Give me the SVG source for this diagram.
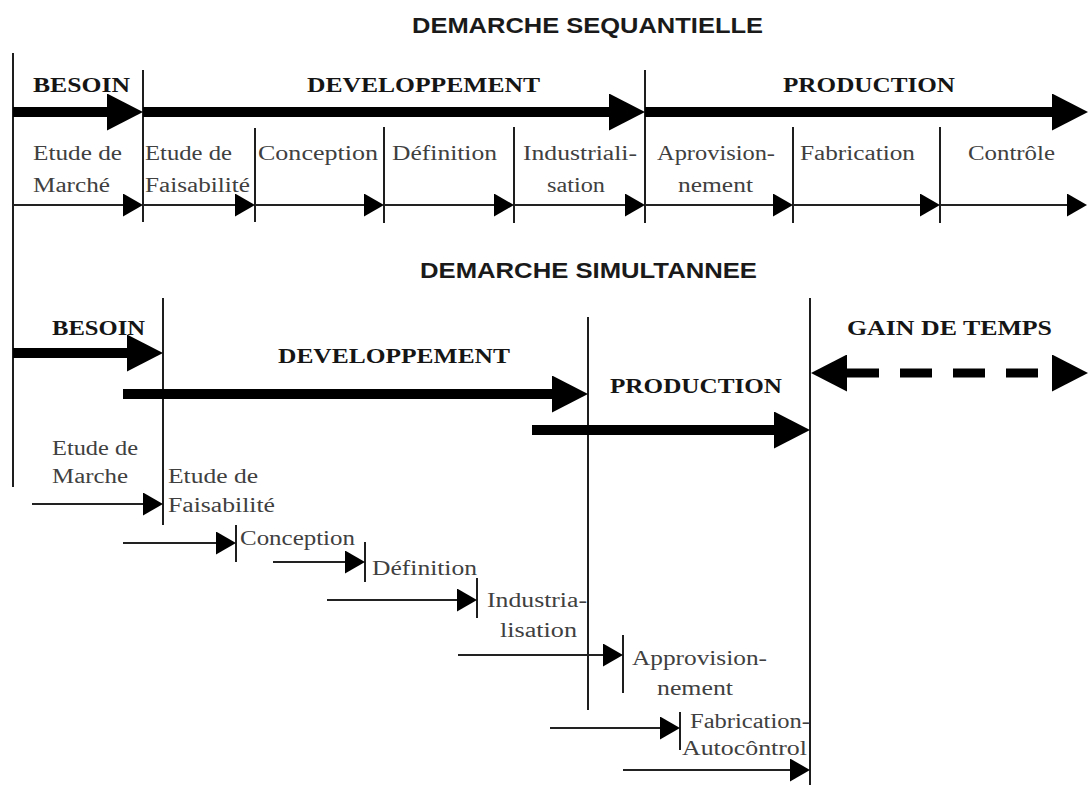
<svg xmlns="http://www.w3.org/2000/svg" width="1088" height="785" viewBox="0 0 1088 785">
  <defs>
    <style>
      .title { font-family: "Liberation Sans", Arial, sans-serif; font-weight: bold; font-size: 22px; fill: #1a1a1a; }
      .phase { font-family: "Liberation Serif", "Times New Roman", serif; font-weight: bold; font-size: 21px; fill: #151515; }
      .step { font-family: "Liberation Serif", "Times New Roman", serif; font-size: 20px; fill: #404040; }
      .rule { stroke: #1e1e1e; stroke-width: 2; fill: none; }
      .thick { stroke: #000; stroke-width: 10; fill: none; marker-end: url(#bigHead); }
      .thin { stroke: #222; stroke-width: 2.2; fill: none; marker-end: url(#smallHead); }
      .gain { stroke: #000; stroke-width: 9; fill: none; stroke-dasharray: 32 21; marker-start: url(#bigHead); marker-end: url(#bigHead); }
    </style>
    <marker id="bigHead" viewBox="0 0 36 37" refX="0" refY="18.5" markerWidth="36" markerHeight="37" markerUnits="userSpaceOnUse" orient="auto-start-reverse">
      <path d="M0,0 L36,18.5 L0,37 Z" fill="#000"/>
    </marker>
    <marker id="smallHead" viewBox="0 0 20 23" refX="0" refY="11.5" markerWidth="20" markerHeight="23" markerUnits="userSpaceOnUse" orient="auto">
      <path d="M0,0 L20,11.5 L0,23 Z" fill="#000"/>
    </marker>
  </defs>

  <rect width="1088" height="785" fill="#fff"/>

  <!-- section titles -->
  <g id="title-sequential">
    <text class="title" x="412" y="33" textLength="351" lengthAdjust="spacingAndGlyphs">DEMARCHE SEQUANTIELLE</text>
  </g>
  <g id="title-simultaneous">
    <text class="title" x="420" y="278" textLength="337" lengthAdjust="spacingAndGlyphs">DEMARCHE SIMULTANNEE</text>
  </g>

  <!-- separators and ticks -->
  <g id="rules">
    <line class="rule" x1="13" y1="53" x2="13" y2="487"/>
    <line class="rule" x1="143" y1="70" x2="143" y2="222"/>
    <line class="rule" x1="255" y1="128" x2="255" y2="222"/>
    <line class="rule" x1="384" y1="127" x2="384" y2="223"/>
    <line class="rule" x1="514" y1="127" x2="514" y2="223"/>
    <line class="rule" x1="645" y1="70" x2="645" y2="223"/>
    <line class="rule" x1="793" y1="127" x2="793" y2="223"/>
    <line class="rule" x1="940" y1="127" x2="940" y2="223"/>
    <line class="rule" x1="163" y1="298" x2="163" y2="525"/>
    <line class="rule" x1="588" y1="317" x2="588" y2="710"/>
    <line class="rule" x1="810" y1="298" x2="810" y2="785"/>
    <line class="rule" x1="236" y1="525" x2="236" y2="562"/>
    <line class="rule" x1="365" y1="542" x2="365" y2="582"/>
    <line class="rule" x1="477" y1="578" x2="477" y2="618"/>
    <line class="rule" x1="623" y1="635" x2="623" y2="693"/>
    <line class="rule" x1="680" y1="712" x2="680" y2="750"/>
  </g>

  <!-- arrows -->
  <g id="connectors">
    <!-- sequential: phases -->
    <path class="thick" d="M13,112 H107"/>
    <path class="thick" d="M143,112 H609"/>
    <path class="thick" d="M645,112 H1052"/>
    <!-- sequential: steps -->
    <path class="thin" d="M13,205 H123"/>
    <path class="thin" d="M143,205 H235"/>
    <path class="thin" d="M255,205 H364"/>
    <path class="thin" d="M384,205 H494"/>
    <path class="thin" d="M514,205 H625"/>
    <path class="thin" d="M645,205 H773"/>
    <path class="thin" d="M793,205 H920"/>
    <path class="thin" d="M940,205 H1067"/>
    <!-- simultaneous: phases -->
    <path class="thick" d="M13,353 H127"/>
    <path class="thick" d="M123,394 H552"/>
    <path class="thick" d="M532,430 H774"/>
    <path class="gain" d="M847,373 H1052"/>
    <!-- simultaneous: steps -->
    <path class="thin" d="M32,504 H143"/>
    <path class="thin" d="M123,543 H216"/>
    <path class="thin" d="M273,562 H345"/>
    <path class="thin" d="M327,600 H457"/>
    <path class="thin" d="M458,655 H603"/>
    <path class="thin" d="M550,728 H660"/>
    <path class="thin" d="M623,770 H790"/>
  </g>

  <!-- sequential phases -->
  <g id="seq-besoin">
    <text class="phase" x="33" y="92" textLength="97" lengthAdjust="spacingAndGlyphs">BESOIN</text>
  </g>
  <g id="seq-developpement">
    <text class="phase" x="307" y="92" textLength="233" lengthAdjust="spacingAndGlyphs">DEVELOPPEMENT</text>
  </g>
  <g id="seq-production">
    <text class="phase" x="783" y="92" textLength="172" lengthAdjust="spacingAndGlyphs">PRODUCTION</text>
  </g>

  <!-- sequential steps -->
  <g id="seq-marche">
    <text class="step" x="33" y="160" textLength="89" lengthAdjust="spacingAndGlyphs">Etude de</text>
    <text class="step" x="33" y="192" textLength="77" lengthAdjust="spacingAndGlyphs">Marché</text>
  </g>
  <g id="seq-faisabilite">
    <text class="step" x="145" y="160" textLength="87" lengthAdjust="spacingAndGlyphs">Etude de</text>
    <text class="step" x="145" y="192" textLength="105" lengthAdjust="spacingAndGlyphs">Faisabilité</text>
  </g>
  <g id="seq-conception">
    <text class="step" x="258" y="160" textLength="120" lengthAdjust="spacingAndGlyphs">Conception</text>
  </g>
  <g id="seq-definition">
    <text class="step" x="392" y="160" textLength="105" lengthAdjust="spacingAndGlyphs">Définition</text>
  </g>
  <g id="seq-industrialisation">
    <text class="step" x="523" y="160" textLength="114" lengthAdjust="spacingAndGlyphs">Industriali-</text>
    <text class="step" x="547" y="192" textLength="58" lengthAdjust="spacingAndGlyphs">sation</text>
  </g>
  <g id="seq-approvisionnement">
    <text class="step" x="657" y="160" textLength="118" lengthAdjust="spacingAndGlyphs">Aprovision-</text>
    <text class="step" x="678" y="192" textLength="75" lengthAdjust="spacingAndGlyphs">nement</text>
  </g>
  <g id="seq-fabrication">
    <text class="step" x="800" y="160" textLength="115" lengthAdjust="spacingAndGlyphs">Fabrication</text>
  </g>
  <g id="seq-controle">
    <text class="step" x="968" y="160" textLength="87" lengthAdjust="spacingAndGlyphs">Contrôle</text>
  </g>

  <!-- simultaneous phases -->
  <g id="sim-besoin">
    <text class="phase" x="52" y="335" textLength="93" lengthAdjust="spacingAndGlyphs">BESOIN</text>
  </g>
  <g id="sim-developpement">
    <text class="phase" x="278" y="363" textLength="232" lengthAdjust="spacingAndGlyphs">DEVELOPPEMENT</text>
  </g>
  <g id="sim-production">
    <text class="phase" x="610" y="393" textLength="172" lengthAdjust="spacingAndGlyphs">PRODUCTION</text>
  </g>
  <g id="sim-gain">
    <text class="phase" x="847" y="335" textLength="205" lengthAdjust="spacingAndGlyphs">GAIN DE TEMPS</text>
  </g>

  <!-- simultaneous steps -->
  <g id="sim-marche">
    <text class="step" x="52" y="455" textLength="86" lengthAdjust="spacingAndGlyphs">Etude de</text>
    <text class="step" x="52" y="483" textLength="76" lengthAdjust="spacingAndGlyphs">Marche</text>
  </g>
  <g id="sim-faisabilite">
    <text class="step" x="168" y="483" textLength="90" lengthAdjust="spacingAndGlyphs">Etude de</text>
    <text class="step" x="168" y="512" textLength="107" lengthAdjust="spacingAndGlyphs">Faisabilité</text>
  </g>
  <g id="sim-conception">
    <text class="step" x="240" y="545" textLength="115" lengthAdjust="spacingAndGlyphs">Conception</text>
  </g>
  <g id="sim-definition">
    <text class="step" x="372" y="575" textLength="105" lengthAdjust="spacingAndGlyphs">Définition</text>
  </g>
  <g id="sim-industrialisation">
    <text class="step" x="487" y="607" textLength="100" lengthAdjust="spacingAndGlyphs">Industria-</text>
    <text class="step" x="500" y="637" textLength="77" lengthAdjust="spacingAndGlyphs">lisation</text>
  </g>
  <g id="sim-approvisionnement">
    <text class="step" x="632" y="665" textLength="135" lengthAdjust="spacingAndGlyphs">Approvision-</text>
    <text class="step" x="657" y="695" textLength="76" lengthAdjust="spacingAndGlyphs">nement</text>
  </g>
  <g id="sim-fabrication">
    <text class="step" x="690" y="728" textLength="120" lengthAdjust="spacingAndGlyphs">Fabrication-</text>
    <text class="step" x="682" y="755" textLength="125" lengthAdjust="spacingAndGlyphs">Autocôntrol</text>
  </g>
</svg>
